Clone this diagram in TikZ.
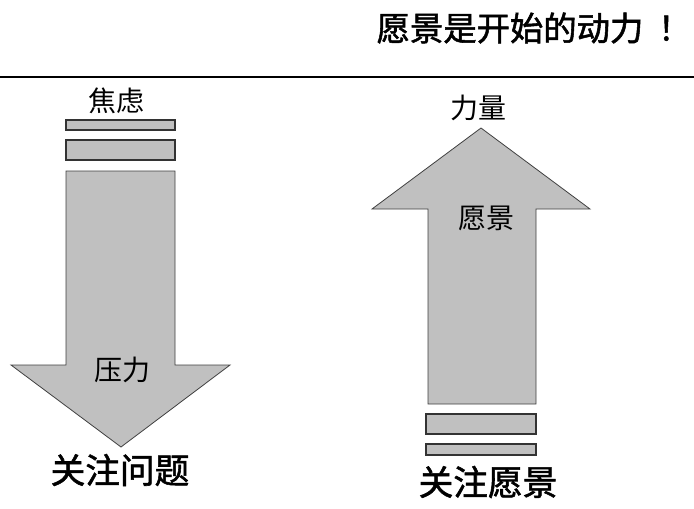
\documentclass[tikz,border=0pt]{standalone}
\usepackage{fontspec}
\newfontfamily\cjk{Noto Sans CJK SC}
\newfontfamily\cjkheavy[FakeBold=1.6]{Noto Sans CJK SC}
\definecolor{arGray}{HTML}{C0C0C0}
\definecolor{arLine}{HTML}{404040}
\definecolor{arBar}{HTML}{333333}
\tikzset{
  font=\cjk,
  title/.style={font=\cjkheavy\fontsize{25}{28}\selectfont, text=black},
  label/.style={font=\cjk\fontsize{21}{24}\selectfont, text=black},
  caption/.style={font=\cjkheavy\fontsize{26}{30}\selectfont, text=black},
  bigarrow/.style={draw=arLine, line width=0.6pt, fill=arGray, line join=miter},
  bar/.style={draw=arBar, line width=1.1pt, fill=arGray},
  rule/.style={line width=2.2pt, draw=black}
}
\begin{document}
\begin{tikzpicture}[x=0.75pt,y=-0.75pt]
\useasboundingbox (0,0) rectangle (694,508);

% title and rule
\node[title] (title) at (534,28) {愿景是开始的动力\kern11pt！};
\coordinate (ruleL) at (0,77);
\coordinate (ruleR) at (694,77);
\draw[rule] (ruleL) -- (ruleR);

% left arrow: pressure
\node[label] (anxiety) at (117,101) {焦虑};
\draw[bar] (66,120) rectangle (175,130);
\draw[bar] (66,140) rectangle (175,160);
\draw[bigarrow] (66,171) -- (175,171) -- (175,365) -- (230,365)
  -- (121,447) -- (11,365) -- (66,365) -- cycle;
\node[label] (pressure) at (122,370) {压力};
\node[caption] (problem) at (120,470) {关注问题};

% right arrow: vision
\node[label] (power) at (478,108) {力量};
\draw[bigarrow] (428,404) -- (428,209) -- (372,209) -- (481,128)
  -- (590,209) -- (536,209) -- (536,404) -- cycle;
\node[label] (vision) at (486,218) {愿景};
\draw[bar] (426,414) rectangle (536,434);
\draw[bar] (426,444) rectangle (536,455);
\node[caption] (focus) at (488,482) {关注愿景};

\end{tikzpicture}
\end{document}
